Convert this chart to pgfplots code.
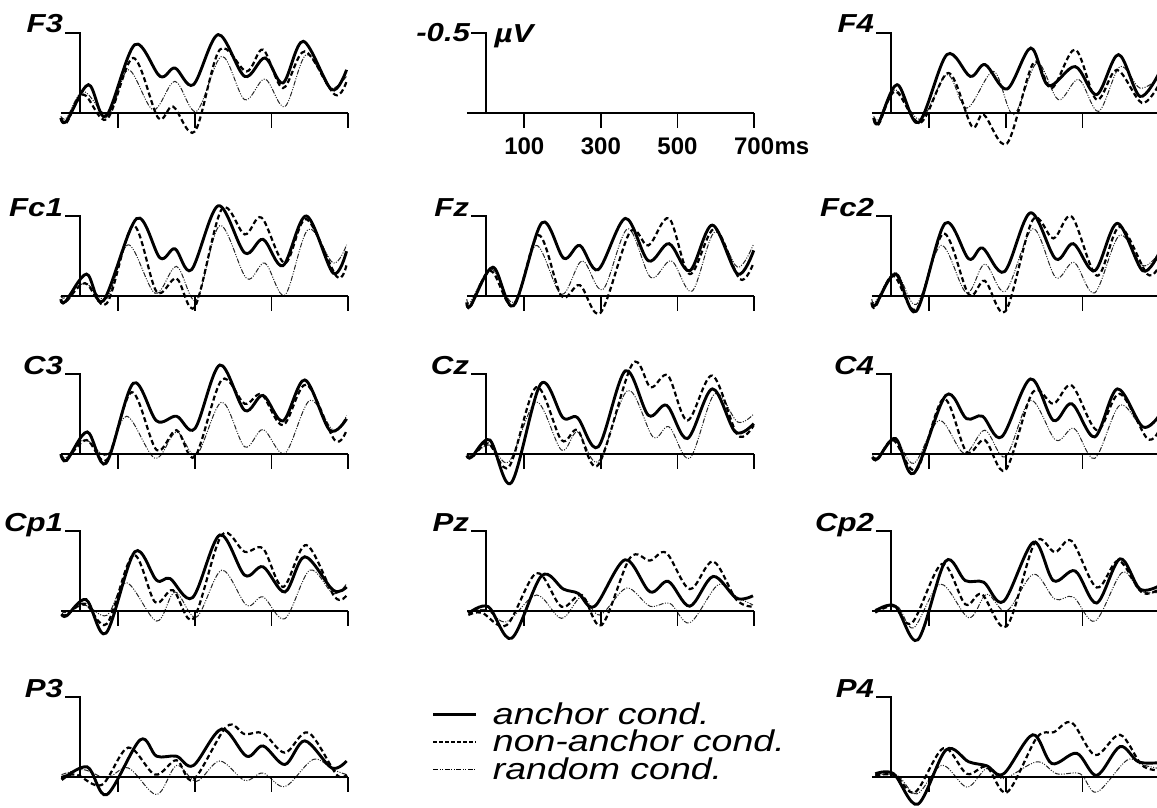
\documentclass[border=0pt]{standalone}
\usepackage{pgfplots}
\pgfplotsset{compat=1.18}
\usepackage{fontspec}
\setmainfont{Liberation Sans}
\newfontfamily\labfont[FakeStretch=1.2]{Liberation Sans}
\newfontfamily\legfont[FakeStretch=1.25]{Liberation Sans}
\newcommand{\plab}{\labfont\bfseries\itshape\fontsize{26}{27}\selectfont}
\newcommand{\tickf}{\bfseries\fontsize{24}{25}\selectfont}
\newcommand{\legf}{\legfont\itshape\fontsize{30}{31}\selectfont}
\tikzset{
  ax/.style={black, line width=1.9pt},
  sA/.style={black, line width=2.9pt, smooth, tension=0.55},
  sN/.style={black, line width=2.2pt, dash pattern=on 5pt off 3pt, smooth, tension=0.55},
  sR/.style={black!85, line width=1pt, dash pattern=on 5pt off 1.5pt on 1pt off 1.5pt on 1pt off 1.5pt, smooth, tension=0.55},
}
\pgfplotsset{erp/.style={hide axis, clip=false, x=0.383pt, y=160pt, y dir=reverse,
  xmin=-50, xmax=700, ymin=-0.5, ymax=0.25, anchor=origin}}
\newcommand{\axframe}{%
  \draw[ax] (axis cs:-50,0) -- (axis cs:700,0);
  \draw[ax] (axis cs:-39,-0.5) -- (axis cs:0,-0.5) -- (axis cs:0,0);
  \draw[ax] (axis cs:100,0) -- (axis cs:100,0.094) (axis cs:300,0) -- (axis cs:300,0.094)
            (axis cs:500,0) -- (axis cs:500,0.094) (axis cs:700,0) -- (axis cs:700,0.094);
}
% #1 x of y-axis, #2 y of baseline (px from top), #3 label, #4 anchor, #5 non-anchor, #6 random
\newcommand{\panel}[6]{%
\begin{axis}[erp, at={(#1pt,-#2pt)}]
\addplot[sR] coordinates {#6};
\addplot[sN] coordinates {#5};
\addplot[sA] coordinates {#4};
\axframe
\node[anchor=base east, inner sep=0pt, font=\plab] at (axis cs:-44,-0.5) {#3};
\end{axis}}
\begin{document}
\begin{tikzpicture}
\useasboundingbox (0pt,0pt) rectangle (1157pt,-808pt);
% ---------------- row 1
\panel{80}{113}{F3}
{(-50,0.03) (-35,0.05) (22,-0.177) (68,0.02) (143,-0.427) (209,-0.229) (248,-0.281) (296,-0.177) (361,-0.49) (430,-0.229) (483,-0.344) (530,-0.188) (583,-0.448) (657,-0.146) (696,-0.27)}
{(-50,0.04) (-35,0.06) (9,-0.115) (70,0.04) (139,-0.344) (204,0.03) (243,-0.04) (300,0.115) (365,-0.396) (435,-0.26) (478,-0.396) (530,-0.156) (587,-0.385) (665,-0.115) (696,-0.198)}
{(-50,0.02) (-35,0.03) (9,-0.135) (74,0.01) (126,-0.27) (191,-0.02) (248,-0.198) (304,-0.01) (370,-0.354) (430,-0.083) (483,-0.213) (535,-0.04) (591,-0.365) (652,-0.156) (696,-0.23)}
\panel{891}{113}{F4}
{(-45,0.03) (-32,0.06) (16,-0.177) (72,0.06) (146,-0.365) (207,-0.229) (246,-0.302) (303,-0.15) (365,-0.406) (411,-0.171) (481,-0.29) (537,-0.115) (594,-0.365) (650,-0.104) (700,-0.25)}
{(-45,0.04) (-32,0.07) (11,-0.135) (77,0.06) (150,-0.25) (211,0.083) (242,0.01) (303,0.19) (372,-0.313) (420,-0.156) (481,-0.396) (537,-0.083) (590,-0.27) (655,-0.063) (700,-0.18)}
{(-45,0.02) (-32,0.04) (11,-0.146) (77,0.04) (146,-0.24) (198,-0.03) (268,-0.26) (320,0.01) (381,-0.313) (437,-0.083) (490,-0.21) (542,-0.01) (598,-0.29) (650,-0.156) (700,-0.22)}
% scale panel
\begin{axis}[erp, at={(486pt,-113pt)}]
\axframe
\node[anchor=east, inner sep=0pt, font=\plab] at (axis cs:-41,-0.5) {-0.5};
\node[anchor=west, inner sep=0pt, font=\plab] at (axis cs:22,-0.48) {µV};
\node[anchor=north, inner sep=0pt, font=\tickf, yshift=-9pt] at (axis cs:100,0.094) {100};
\node[anchor=north, inner sep=0pt, font=\tickf, yshift=-9pt] at (axis cs:300,0.094) {300};
\node[anchor=north, inner sep=0pt, font=\tickf, yshift=-9pt] at (axis cs:500,0.094) {500};
\node (s7) [anchor=north, inner sep=0pt, font=\tickf, yshift=-9pt] at (axis cs:700,0.094) {700};
\node[anchor=base west, inner sep=0pt, font=\tickf] at (s7.base east) {ms};
\end{axis}
% ---------------- row 2
\panel{80}{296}{Fc1}
{(-50,0.02) (-38,0.035) (17,-0.137) (61,0.03) (148,-0.484) (209,-0.238) (248,-0.295) (291,-0.164) (361,-0.564) (430,-0.27) (478,-0.354) (530,-0.19) (591,-0.5) (661,-0.143) (696,-0.28)}
{(-50,0.03) (-38,0.04) (13,-0.08) (70,0.046) (139,-0.44) (200,-0.027) (252,-0.11) (300,0.067) (370,-0.543) (430,-0.385) (474,-0.49) (535,-0.206) (591,-0.48) (670,-0.122) (696,-0.196)}
{(-50,0) (-38,0.01) (13,-0.08) (70,0.015) (126,-0.32) (196,-0.017) (252,-0.185) (304,0.025) (365,-0.44) (435,-0.11) (483,-0.206) (535,-0.006) (596,-0.417) (661,-0.206) (696,-0.32)}
\panel{486}{296}{Fz}
{(-50,0.04) (-40,0.06) (18,-0.18) (72,0.06) (146,-0.458) (203,-0.236) (245,-0.316) (293,-0.165) (364,-0.485) (424,-0.22) (478,-0.327) (532,-0.158) (591,-0.443) (657,-0.137) (699,-0.285)}
{(-50,0.05) (-40,0.065) (12,-0.158) (72,0.063) (137,-0.38) (197,0) (245,-0.068) (299,0.105) (376,-0.40) (424,-0.316) (478,-0.485) (532,-0.137) (597,-0.42) (663,-0.105) (699,-0.21)}
{(-50,0.02) (-40,0.035) (14,-0.17) (72,0.04) (131,-0.316) (197,-0.01) (251,-0.22) (305,-0.04) (370,-0.42) (430,-0.116) (484,-0.22) (538,-0.03) (597,-0.40) (657,-0.18) (699,-0.327)}
\panel{891}{296}{Fc2}
{(-50,0.04) (-40,0.055) (12,-0.137) (66,0.095) (141,-0.454) (203,-0.232) (239,-0.30) (296,-0.152) (364,-0.52) (430,-0.232) (476,-0.327) (532,-0.158) (591,-0.454) (657,-0.158) (700,-0.27)}
{(-50,0.05) (-40,0.065) (6,-0.127) (66,0.084) (137,-0.39) (203,-0.01) (245,-0.095) (299,0.095) (370,-0.475) (424,-0.36) (472,-0.496) (538,-0.127) (597,-0.432) (669,-0.137) (700,-0.19)}
{(-50,0.02) (-40,0.035) (12,-0.148) (66,0.053) (131,-0.316) (197,-0.02) (245,-0.2) (299,-0.03) (370,-0.42) (430,-0.116) (478,-0.21) (532,-0.02) (597,-0.38) (657,-0.19) (700,-0.27)}
% ---------------- row 3
\panel{80}{454}{C3}
{(-50,0.0) (-35,0.04) (19,-0.138) (68,0.058) (139,-0.442) (200,-0.207) (252,-0.236) (300,-0.159) (365,-0.556) (430,-0.273) (478,-0.366) (530,-0.207) (587,-0.463) (652,-0.149) (696,-0.22)}
{(-50,0.01) (-35,0.03) (17,-0.087) (70,0.037) (135,-0.386) (200,-0.025) (252,-0.149) (300,0.017) (370,-0.463) (430,-0.314) (474,-0.372) (530,-0.18) (591,-0.434) (665,-0.087) (696,-0.149)}
{(-50,0) (-35,0.02) (13,-0.09) (70,0.006) (122,-0.236) (196,0.027) (252,-0.138) (304,0.006) (370,-0.324) (430,-0.045) (478,-0.153) (535,-0.004) (600,-0.335) (661,-0.149) (696,-0.24)}
\panel{486}{454}{Cz}
{(-50,0.01) (-38,0.02) (10,-0.087) (66,0.18) (143,-0.438) (201,-0.227) (239,-0.227) (293,-0.045) (364,-0.52) (424,-0.242) (472,-0.304) (526,-0.097) (591,-0.407) (651,-0.138) (699,-0.19)}
{(-50,0.01) (-38,0.025) (6,-0.066) (60,0.08) (131,-0.417) (197,-0.087) (239,-0.149) (293,0.068) (382,-0.562) (430,-0.417) (475,-0.49) (526,-0.21) (591,-0.49) (657,-0.118) (699,-0.18)}
{(-50,0) (-38,0.01) (10,-0.056) (60,0.048) (131,-0.324) (197,-0.025) (239,-0.138) (293,0.048) (370,-0.397) (436,-0.107) (478,-0.17) (532,0.027) (597,-0.376) (657,-0.2) (699,-0.25)}
\panel{891}{454}{C4}
{(-48,0.02) (-35,0.03) (12,-0.097) (60,0.12) (143,-0.366) (197,-0.221) (239,-0.236) (289,-0.107) (364,-0.469) (424,-0.21) (472,-0.314) (532,-0.107) (591,-0.407) (657,-0.17) (700,-0.24)}
{(-48,0.02) (-35,0.035) (6,-0.087) (66,0.1) (137,-0.345) (197,-0.014) (245,-0.087) (299,0.1) (370,-0.386) (424,-0.314) (472,-0.428) (538,-0.149) (597,-0.376) (669,-0.097) (700,-0.15)}
{(-48,0.01) (-35,0.02) (12,-0.087) (60,0.058) (126,-0.21) (191,-0.004) (245,-0.149) (299,0.017) (364,-0.335) (430,-0.087) (478,-0.16) (532,0.027) (597,-0.304) (657,-0.17) (700,-0.24)}
% ---------------- row 4
\panel{80}{611}{Cp1}
{(-48,0.02) (-35,0.03) (16,-0.071) (68,0.138) (143,-0.37) (200,-0.192) (235,-0.203) (294,-0.084) (365,-0.475) (430,-0.224) (478,-0.276) (535,-0.119) (587,-0.339) (661,-0.13) (696,-0.15)}
{(-48,0.017) (-35,0.025) (13,-0.046) (70,0.08) (139,-0.35) (196,-0.056) (243,-0.13) (296,0.048) (370,-0.475) (430,-0.37) (478,-0.39) (530,-0.15) (591,-0.412) (665,-0.088) (696,-0.098)}
{(-48,0) (-35,0.01) (13,-0.036) (70,0.027) (122,-0.176) (200,0.063) (248,-0.119) (304,0.038) (370,-0.255) (435,-0.036) (478,-0.088) (535,0.048) (600,-0.255) (661,-0.109) (696,-0.17)}
\panel{486}{611}{Pz}
{(-46,0.015) (6,-0.027) (67,0.17) (145,-0.22) (202,-0.137) (241,-0.11) (284,-0.03) (363,-0.32) (428,-0.12) (476,-0.185) (532,-0.03) (593,-0.216) (654,-0.08) (697,-0.095)}
{(-46,0.025) (-11,0.01) (54,0.088) (132,-0.237) (197,-0.027) (250,-0.1) (302,0.088) (376,-0.332) (428,-0.315) (471,-0.363) (532,-0.137) (593,-0.31) (654,-0.07) (697,-0.027)}
{(-46,0) (2,-0.006) (54,0.067) (132,-0.1) (197,0.046) (250,-0.09) (297,0.025) (367,-0.143) (428,-0.03) (480,-0.048) (532,0.074) (606,-0.164) (654,-0.09) (697,-0.038)}
\panel{891}{611}{Cp2}
{(-41,0) (11,-0.03) (70,0.18) (142,-0.31) (194,-0.19) (242,-0.18) (294,-0.06) (372,-0.43) (424,-0.19) (481,-0.25) (537,-0.05) (598,-0.326) (650,-0.137) (700,-0.157)}
{(-41,0.01) (7,-0.03) (55,0.074) (133,-0.294) (194,-0.042) (237,-0.105) (302,0.095) (376,-0.43) (428,-0.368) (472,-0.437) (537,-0.147) (594,-0.315) (655,-0.116) (700,-0.137)}
{(-41,-0.01) (16,-0.03) (59,0.105) (129,-0.168) (203,0.042) (250,-0.105) (302,0) (372,-0.23) (428,-0.074) (476,-0.088) (533,0.063) (603,-0.24) (650,-0.126) (700,-0.116)}
% ---------------- row 5
\panel{80}{777}{P3}
{(-48,0.017) (19,-0.063) (70,0.11) (157,-0.232) (200,-0.13) (252,-0.13) (296,-0.072) (370,-0.3) (435,-0.13) (478,-0.194) (535,-0.078) (587,-0.226) (657,-0.057) (696,-0.1)}
{(-48,0) (-9,-0.015) (57,0.049) (126,-0.184) (196,-0.015) (252,-0.105) (296,0.017) (383,-0.316) (430,-0.268) (478,-0.274) (535,-0.152) (596,-0.278) (670,-0.015) (696,-0.015)}
{(-48,-0.015) (9,-0.046) (70,0.006) (126,-0.057) (200,0.11) (252,-0.072) (304,0.027) (365,-0.1) (430,0.021) (478,-0.025) (535,0.06) (609,-0.11) (661,-0.046) (696,-0.015)}
\panel{891}{777}{P4}
{(-41,-0.02) (7,-0.02) (70,0.17) (144,-0.17) (203,-0.095) (250,-0.07) (294,-0.02) (370,-0.264) (420,-0.084) (485,-0.148) (537,-0.01) (598,-0.19) (646,-0.095) (700,-0.09)}
{(-41,-0.01) (11,-0.01) (63,0.095) (137,-0.18) (198,-0.02) (250,-0.063) (303,0.095) (381,-0.247) (425,-0.28) (472,-0.34) (533,-0.137) (598,-0.264) (655,-0.074) (700,-0.042)}
{(-41,-0.01) (16,-0.01) (68,0.105) (133,-0.074) (198,0.063) (250,-0.053) (294,0.01) (381,-0.095) (433,-0.02) (494,-0.02) (537,0.095) (616,-0.105) (659,-0.074) (700,-0.053)}
% ---------------- legend
\begin{axis}[hide axis, scale only axis, width=10pt, height=10pt, xmin=0, xmax=1, ymin=0, ymax=1,
  at={(432pt,-702pt)}, anchor=north west,
  legend style={at={(0,1)}, anchor=north west, draw=none, fill=none, inner sep=0pt, outer sep=0pt,
    font=\legf, row sep=2pt, nodes={inner sep=1pt},
    /tikz/every odd column/.append style={column sep=14pt}},
  legend cell align=left,
  legend image code/.code={\draw[#1] (0pt,0pt) -- (43pt,0pt);}]
\addlegendimage{black, line width=2.9pt}
\addlegendentry{anchor cond.}
\addlegendimage{black, line width=1.6pt, dash pattern=on 4pt off 2pt}
\addlegendentry{non-anchor cond.}
\addlegendimage{black, line width=1pt, dash pattern=on 5pt off 1.5pt on 1pt off 1.5pt on 1pt off 1.5pt}
\addlegendentry{random cond.}
\end{axis}
\end{tikzpicture}
\end{document}
